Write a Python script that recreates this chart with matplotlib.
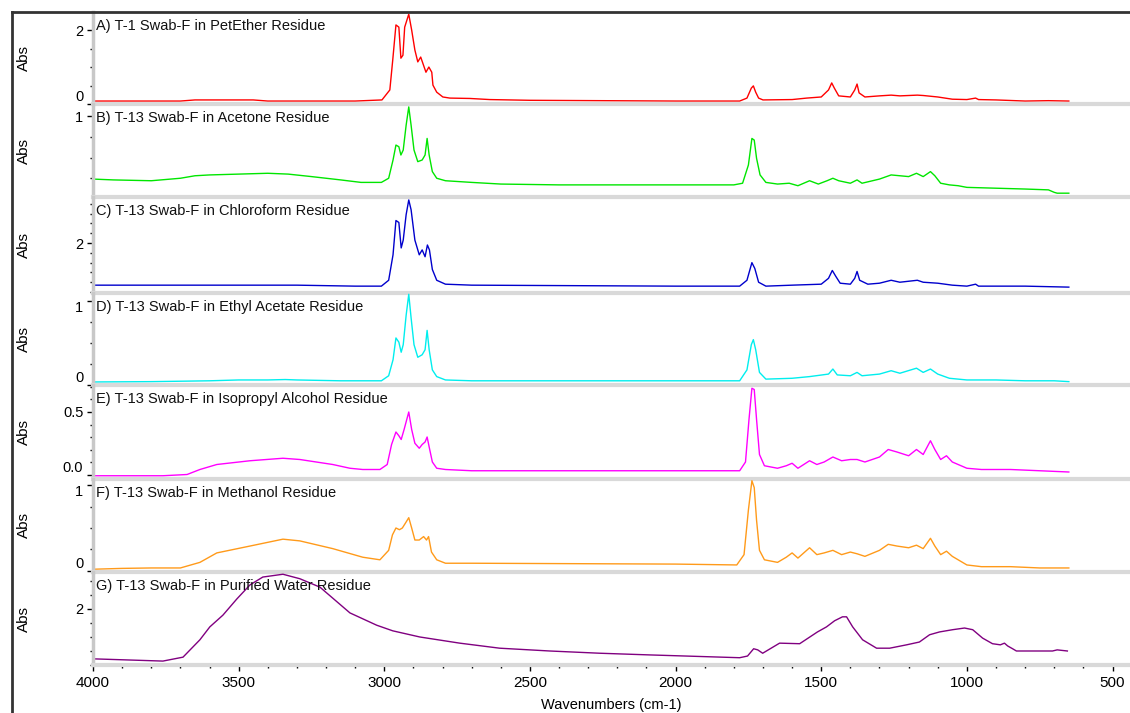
import matplotlib
matplotlib.use('Agg')
import matplotlib.pyplot as plt
from matplotlib.lines import Line2D
from matplotlib.ticker import FixedLocator, MultipleLocator, FormatStrFormatter

plt.rcParams['font.family'] = ['Liberation Sans', 'DejaVu Sans']

# ---------------- data (wavenumber, absorbance) ----------------
titles = [
    "A) T-1 Swab-F in PetEther Residue",
    "B) T-13 Swab-F in Acetone Residue",
    "C) T-13 Swab-F in Chloroform Residue",
    "D) T-13 Swab-F in Ethyl Acetate Residue",
    "E) T-13 Swab-F in Isopropyl Alcohol Residue",
    "F) T-13 Swab-F in Methanol Residue",
    "G) T-13 Swab-F in Purified Water Residue",
]
colors = ["#ff0000", "#00e600", "#0000cc", "#00eeee", "#ff00ff", "#ff9a1a", "#800080"]

wn_a = [4000, 3700, 3650, 3450, 3400, 3100, 3008, 2981, 2971, 2960, 2950, 2943, 2936, 2930, 2916,
        2906, 2895, 2885, 2875, 2857, 2847, 2837, 2833, 2820, 2799, 2775, 2706, 2638, 2500, 2000,
        1780, 1755, 1740, 1733, 1725, 1715, 1700, 1600, 1550, 1500, 1475, 1464, 1455, 1440, 1400,
        1385, 1377, 1370, 1350, 1300, 1260, 1230, 1170, 1150, 1100, 1050, 1000, 970, 960, 900,
        800, 720, 650]
abs_a = [0.08, 0.08, 0.11, 0.11, 0.08, 0.08, 0.11, 0.38, 1.19, 2.14, 2.08, 1.24, 1.32, 2.08, 2.43,
         2.0, 1.46, 1.14, 1.27, 0.86, 1.0, 0.86, 0.51, 0.32, 0.19, 0.16, 0.15, 0.12, 0.10, 0.08,
         0.08, 0.16, 0.43, 0.49, 0.32, 0.16, 0.11, 0.12, 0.16, 0.19, 0.38, 0.57, 0.43, 0.22, 0.19,
         0.38, 0.54, 0.30, 0.19, 0.22, 0.24, 0.22, 0.24, 0.23, 0.19, 0.13, 0.12, 0.16, 0.12, 0.11,
         0.08, 0.09, 0.08]

wn_b = [4000, 3930, 3800, 3700, 3650, 3600, 3500, 3400, 3330, 3250, 3150, 3080, 3010, 2985, 2970,
        2960, 2950, 2943, 2935, 2925, 2916, 2908, 2898, 2885, 2870, 2860, 2853, 2846, 2835, 2820,
        2790, 2700, 2600, 2400, 2200, 2000, 1800, 1770, 1750, 1738, 1730, 1722, 1710, 1690, 1650,
        1610, 1600, 1580, 1540, 1510, 1480, 1460, 1440, 1400, 1377, 1360, 1300, 1260, 1230, 1200,
        1173, 1150, 1125, 1110, 1090, 1060, 1030, 1000, 900, 800, 720, 700, 690, 650]
abs_b = [0.24, 0.23, 0.22, 0.25, 0.28, 0.29, 0.30, 0.31, 0.30, 0.27, 0.23, 0.20, 0.20, 0.25, 0.47,
         0.65, 0.63, 0.53, 0.59, 0.89, 1.11, 0.89, 0.59, 0.45, 0.47, 0.53, 0.73, 0.53, 0.33, 0.25,
         0.22, 0.20, 0.18, 0.17, 0.17, 0.17, 0.17, 0.19, 0.41, 0.73, 0.71, 0.49, 0.29, 0.20, 0.18,
         0.19, 0.18, 0.16, 0.22, 0.18, 0.22, 0.25, 0.22, 0.19, 0.23, 0.19, 0.24, 0.29, 0.28, 0.27,
         0.31, 0.27, 0.33, 0.28, 0.19, 0.17, 0.16, 0.14, 0.13, 0.12, 0.11, 0.08, 0.07, 0.07]

wn_c = [4000, 3880, 3700, 3300, 3100, 3010, 2985, 2970, 2960, 2950, 2942, 2935, 2925, 2916, 2908,
        2895, 2880, 2870, 2860, 2852, 2845, 2835, 2820, 2790, 2700, 2000, 1780, 1755, 1738, 1728,
        1715, 1690, 1600, 1500, 1475, 1462, 1450, 1435, 1400, 1385, 1377, 1368, 1340, 1300, 1260,
        1230, 1170, 1150, 1100, 1050, 1000, 970, 960, 800, 650]
abs_c = [1.57, 1.57, 1.57, 1.57, 1.56, 1.56, 1.62, 1.88, 2.23, 2.21, 1.95, 2.03, 2.29, 2.44, 2.34,
         2.03, 1.88, 1.93, 1.86, 1.98, 1.93, 1.73, 1.62, 1.58, 1.57, 1.56, 1.56, 1.62, 1.80, 1.74,
         1.60, 1.56, 1.57, 1.58, 1.64, 1.72, 1.66, 1.59, 1.58, 1.64, 1.71, 1.62, 1.58, 1.59, 1.62,
         1.60, 1.62, 1.60, 1.59, 1.57, 1.56, 1.58, 1.56, 1.56, 1.55]

wn_d = [4000, 3800, 3600, 3500, 3400, 3340, 3300, 3150, 3010, 2985, 2970, 2960, 2950, 2942, 2935,
        2925, 2916, 2908, 2898, 2885, 2870, 2860, 2853, 2846, 2835, 2820, 2790, 2700, 2000, 1780,
        1755, 1740, 1733, 1725, 1712, 1690, 1600, 1540, 1475, 1460, 1445, 1400, 1377, 1360, 1300,
        1260, 1230, 1173, 1150, 1125, 1100, 1060, 1000, 900, 800, 700, 650]
abs_d = [0.036, 0.04, 0.05, 0.06, 0.06, 0.065, 0.06, 0.05, 0.05, 0.11, 0.30, 0.56, 0.51, 0.39, 0.48,
         0.83, 1.08, 0.80, 0.48, 0.33, 0.36, 0.42, 0.65, 0.42, 0.18, 0.10, 0.06, 0.05, 0.05, 0.05,
         0.18, 0.48, 0.54, 0.42, 0.15, 0.07, 0.08, 0.10, 0.13, 0.19, 0.12, 0.11, 0.15, 0.11, 0.13,
         0.17, 0.14, 0.20, 0.15, 0.19, 0.13, 0.08, 0.06, 0.06, 0.05, 0.05, 0.04]

wn_e = [4000, 3760, 3677, 3633, 3575, 3461, 3348, 3290, 3177, 3118, 3074, 3015, 2990, 2975, 2960,
        2950, 2942, 2932, 2916, 2906, 2895, 2880, 2870, 2860, 2853, 2845, 2835, 2820, 2790, 2700,
        2000, 1780, 1760, 1748, 1738, 1730, 1722, 1712, 1695, 1650, 1620, 1600, 1580, 1540, 1515,
        1490, 1460, 1430, 1400, 1377, 1350, 1300, 1270, 1240, 1200, 1173, 1150, 1125, 1110, 1090,
        1070, 1050, 1000, 950, 850, 750, 650]
abs_e = [-0.01, -0.01, 0.0, 0.04, 0.08, 0.11, 0.13, 0.12, 0.08, 0.05, 0.04, 0.04, 0.08, 0.24, 0.34,
         0.31, 0.28, 0.36, 0.50, 0.36, 0.25, 0.21, 0.24, 0.26, 0.30, 0.21, 0.10, 0.05, 0.04, 0.03,
         0.03, 0.03, 0.10, 0.44, 0.69, 0.68, 0.44, 0.16, 0.07, 0.05, 0.07, 0.09, 0.05, 0.11, 0.08,
         0.10, 0.14, 0.11, 0.12, 0.12, 0.10, 0.14, 0.20, 0.18, 0.15, 0.20, 0.16, 0.27, 0.20, 0.12,
         0.15, 0.10, 0.05, 0.04, 0.04, 0.03, 0.02]

wn_f = [4000, 3900, 3800, 3700, 3633, 3575, 3461, 3348, 3290, 3177, 3074, 3015, 2985, 2972, 2960,
        2948, 2938, 2925, 2916, 2906, 2895, 2880, 2865, 2855, 2848, 2838, 2820, 2790, 2700, 2000,
        1790, 1765, 1750, 1738, 1730, 1722, 1712, 1695, 1650, 1620, 1600, 1580, 1540, 1515, 1490,
        1460, 1430, 1400, 1377, 1350, 1300, 1270, 1240, 1200, 1173, 1150, 1125, 1110, 1090, 1070,
        1050, 1000, 950, 850, 750, 650]
abs_f = [0.02, 0.03, 0.035, 0.035, 0.10, 0.21, 0.29, 0.37, 0.35, 0.26, 0.16, 0.13, 0.24, 0.42, 0.50,
         0.48, 0.50, 0.57, 0.62, 0.50, 0.36, 0.36, 0.40, 0.36, 0.40, 0.22, 0.13, 0.09, 0.09, 0.08,
         0.07, 0.19, 0.71, 1.05, 0.97, 0.59, 0.24, 0.13, 0.10, 0.16, 0.21, 0.15, 0.27, 0.19, 0.21,
         0.24, 0.19, 0.22, 0.20, 0.17, 0.24, 0.31, 0.29, 0.27, 0.30, 0.26, 0.38, 0.29, 0.19, 0.23,
         0.17, 0.07, 0.05, 0.05, 0.035, 0.035]

wn_g = [4000, 3760, 3691, 3633, 3599, 3554, 3506, 3461, 3417, 3348, 3290, 3221, 3118, 3026, 2971,
        2878, 2741, 2604, 2432, 2260, 2089, 1780, 1753, 1732, 1718, 1701, 1643, 1574, 1513, 1482,
        1454, 1427, 1413, 1392, 1358, 1310, 1265, 1207, 1163, 1128, 1094, 1049, 1008, 980, 946,
        912, 885, 871, 860, 843, 830, 706, 690, 655]
abs_g = [1.11, 1.07, 1.14, 1.45, 1.68, 1.89, 2.18, 2.43, 2.57, 2.62, 2.54, 2.39, 1.93, 1.71, 1.61,
         1.50, 1.39, 1.30, 1.25, 1.21, 1.18, 1.13, 1.16, 1.29, 1.27, 1.21, 1.39, 1.38, 1.59, 1.68,
         1.79, 1.86, 1.86, 1.68, 1.45, 1.30, 1.30, 1.36, 1.41, 1.54, 1.59, 1.63, 1.66, 1.63, 1.48,
         1.38, 1.36, 1.39, 1.34, 1.29, 1.25, 1.25, 1.27, 1.25]

series = [(wn_a, abs_a), (wn_b, abs_b), (wn_c, abs_c), (wn_d, abs_d),
          (wn_e, abs_e), (wn_f, abs_f), (wn_g, abs_g)]

# axis settings per panel: ylim, major ticks, minor step, format
ylims = [(0, 2.49), (0.024, 1.145), (1.49, 2.47), (0, 1.095), (-0.036, 0.716), (-0.012, 1.07), (1.0, 2.66)]
majors = [[0, 2], [1], [2], [0, 1], [0.0, 0.5], [0, 1], [2]]
minors = [0.5, 0.25, 0.1, 0.25, 0.1, 0.25, 0.25]
fmts = ['%g', '%g', '%g', '%g', '%.1f', '%g', '%g']

xticks_major = [4000, 3500, 3000, 2500, 2000, 1500, 1000, 500]

# ---------------- figure ----------------
W, H = 1130, 713
fig = plt.figure(figsize=(W / 100, H / 100), dpi=100)
bounds = [12, 104, 197, 293, 385, 479, 572, 665]
left_px = 93

for i in range(7):
    top, bot = bounds[i], bounds[i + 1]
    ax = fig.add_axes([left_px / W, 1 - bot / H, 1 - left_px / W, (bot - top) / H])
    wn, ab = series[i]
    ax.plot(wn, ab, color=colors[i], lw=1.0)
    ax.set_xlim(4000, 440)
    lo, hi = ylims[i]
    ax.set_ylim(lo, hi)
    ax.yaxis.set_major_locator(FixedLocator(majors[i]))
    ax.yaxis.set_minor_locator(MultipleLocator(minors[i]))
    ax.yaxis.set_major_formatter(FormatStrFormatter(fmts[i]))
    for s in ['top', 'right']:
        ax.spines[s].set_visible(False)
    ax.spines['left'].set_color('#c8c8c8')
    ax.spines['left'].set_linewidth(2.5)
    ax.spines['bottom'].set_color('#d9d9d9')
    ax.spines['bottom'].set_linewidth(3)
    ax.tick_params(axis='y', which='major', direction='out', length=4, width=1,
                   color='black', labelsize=10.5, pad=3)
    ax.tick_params(axis='y', which='minor', direction='out', length=2.5, width=1, color='black')
    ax.patch.set_alpha(0)
    # nudge tick labels that sit at the panel edges inward
    span = hi - lo
    fig.canvas.draw_idle()
    for val, lab in zip(majors[i], ax.get_yticklabels()):
        frac = (val - lo) / span
        if frac < 0.1:
            lab.set_verticalalignment('bottom')
        elif frac > 0.9:
            lab.set_verticalalignment('top')
    if i < 6:
        ax.tick_params(axis='x', which='both', bottom=False, labelbottom=False)
    else:
        ax.xaxis.set_major_locator(FixedLocator(xticks_major))
        ax.xaxis.set_minor_locator(MultipleLocator(100))
        ax.tick_params(axis='x', which='major', direction='out', length=4, width=1,
                       color='black', labelsize=11, pad=4)
        ax.tick_params(axis='x', which='minor', direction='out', length=2.5, width=1, color='black')
        ax.set_xlabel('Wavenumbers (cm-1)', fontsize=10.5, labelpad=6)
    ax.text(3 / (W - left_px), 1 - 14 / (bot - top), titles[i], transform=ax.transAxes,
            fontsize=10.5, va='center', ha='left', color='#111111')
    fig.text(24 / W, 1 - (top + bot) / 2 / H, 'Abs', rotation=90, va='center', ha='center',
             fontsize=11)

# outer frame lines
fig.add_artist(Line2D([12 / W, 1], [1 - 12 / H, 1 - 12 / H], color='#333333', lw=2,
                      transform=fig.transFigure))
fig.add_artist(Line2D([12 / W, 12 / W], [0, 1 - 12 / H], color='#333333', lw=2,
                      transform=fig.transFigure))

fig.savefig('out.png', dpi=100)
